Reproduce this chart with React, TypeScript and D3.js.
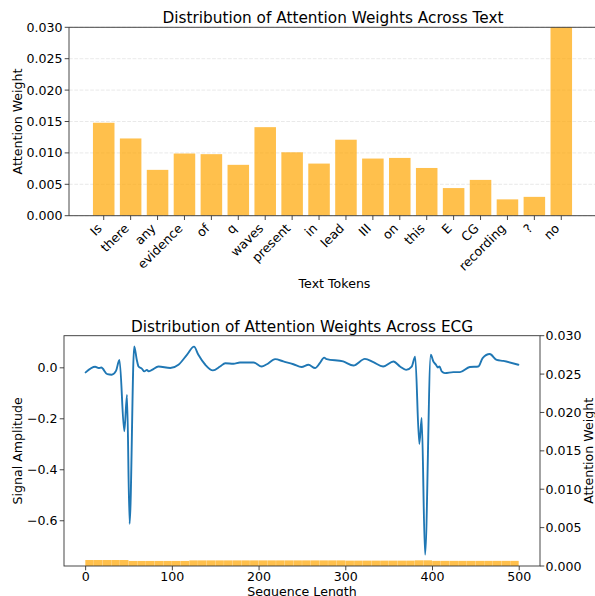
import React from "react";
import * as d3 from "d3";

const tokens = ["Is","there","any","evidence","of","q","waves","present","in","lead","III","on","this","E","CG","recording","?","no"];
const tokenWeights = [0.0148,0.0123,0.0073,0.0099,0.0098,0.0081,0.0141,0.0101,0.0083,0.0121,0.0091,0.0092,0.0076,0.0044,0.0057,0.0026,0.0030,0.0500];
const textYTicks = [0, 0.005, 0.01, 0.015, 0.02, 0.025, 0.03];

// ECG key samples: [index, amplitude]
const ecgIdx = [0,11,15,18,25,30,35,39,44.6,47.7,50.7,56,59,61,65,67.6,70.7,72.6,76.5,84,97.6,107,116.8,125,130,138,146.8,155,161,170.5,178,193.6,203,209,218.5,228,239.6,249,257,264.6,270,275,278,297,308.8,322,331.8,343,355,362.5,369.5,376,380,384.8,387.5,391.4,398,401,404,406,408,410.6,414.4,424,431.7,443,452.8,457.8,466,474,481.6,499];
const ecgAmp = [-0.018,0.004,-0.001,0.001,-0.025,-0.027,-0.012,0.031,-0.249,-0.106,-0.612,0.084,0.031,0.005,-0.004,-0.014,-0.008,-0.014,-0.008,0.005,-0.001,0.012,0.051,0.083,0.051,0.012,-0.010,0.005,0.018,0.016,0.021,0.021,0.005,0.014,0.034,0.025,0.014,0.003,0.012,-0.001,0.018,0.040,0.034,0.025,0.009,0.035,0.022,0.005,0.025,0.005,-0.008,0.005,0.044,-0.299,-0.197,-0.733,0.051,0.025,0.012,0.001,0.005,-0.014,-0.021,-0.017,-0.017,0.003,0.005,0.038,0.054,0.031,0.027,0.012];
// attention weight per block of 10 samples
const ecgAttn = [
  0.00078,0.00078,0.00078,0.00078,0.00078,
  0.00066,0.00066,0.00066,0.00066,0.00066,0.00066,0.00066,
  0.00073,0.00073,0.00073,0.00073,0.00073,0.00073,0.00073,0.00073,0.00073,0.00073,
  0.00073,0.00073,0.00073,0.00073,0.00073,0.00073,0.00073,0.00073,
  0.00070,0.00070,0.00070,0.00070,0.00070,0.00070,0.00070,0.00070,
  0.00074,0.00074,
  0.00067,0.00067,0.00067,0.00067,0.00067,0.00067,0.00067,0.00067,0.00067,0.00067
];
const ecgXTicks = [0,100,200,300,400,500];
const ampTicks = [0, -0.2, -0.4, -0.6];
const attnTicks = [0, 0.005, 0.01, 0.015, 0.02, 0.025, 0.03];

const FONT = "DejaVu Sans";
const TICK_FS = 12.6;
const TITLE_FS = 15.3;
const ORANGE = "rgba(255,165,0,0.7)";
const SPINE = "#333";

const fmtMinus = (s: string) => s.replace("-", "\u2212");

export default function App() {
  // Top chart
  const t = { l: 69, r: 596, t: 27.3, b: 215.7 };
  const xT = d3.scaleLinear().domain([-1.29, 18.29]).range([t.l, t.r]);
  const yT = d3.scaleLinear().domain([0, 0.03]).range([t.b, t.t]);
  const bw = xT(0.4) - xT(-0.4);

  // Bottom chart
  const bch = { l: 64, r: 540, t: 335.7, b: 566 };
  const xB = d3.scaleLinear().domain([-24.95, 523.95]).range([bch.l, bch.r]);
  const yL = d3.scaleLinear().domain([-0.7775, 0.126]).range([bch.b, bch.t]);
  const yR = d3.scaleLinear().domain([0, 0.03]).range([bch.b, bch.t]);
  const line = d3.line<number>().x((_, i) => xB(ecgIdx[i])).y((v) => yL(v)).curve(d3.curveMonotoneX);

  const tl = 4.3;
  return (
    <svg width={595} height={596} style={{ position: "absolute", left: 0, top: 0, fontFamily: FONT }}>
      <rect width={595} height={596} fill="#fff" />
      {/* ===== Top chart ===== */}
      <defs>
        <clipPath id="clipTop"><rect x={t.l} y={t.t} width={t.r - t.l} height={t.b - t.t} /></clipPath>
        <clipPath id="clipBot"><rect x={bch.l} y={bch.t} width={bch.r - bch.l} height={bch.b - bch.t} /></clipPath>
      </defs>
      {textYTicks.map((v) => (
        <line key={"g" + v} x1={t.l} x2={t.r} y1={yT(v)} y2={yT(v)} stroke="#b0b0b0" strokeOpacity={0.35} strokeDasharray="3.7,1.6" strokeWidth={0.8} />
      ))}
      <g clipPath="url(#clipTop)">
        {tokenWeights.map((w, i) => (
          <rect key={i} x={xT(i) - bw / 2} y={yT(w)} width={bw} height={yT(0) - yT(w)} fill={ORANGE} />
        ))}
      </g>
      <line x1={t.l} x2={t.l} y1={t.t} y2={t.b} stroke={SPINE} strokeWidth={0.9} />
      <line x1={t.l} x2={t.r} y1={t.b} y2={t.b} stroke={SPINE} strokeWidth={0.9} />
      <line x1={t.l} x2={t.r} y1={t.t} y2={t.t} stroke={SPINE} strokeWidth={0.9} />
      {textYTicks.map((v) => (
        <g key={"yt" + v}>
          <line x1={t.l - tl} x2={t.l} y1={yT(v)} y2={yT(v)} stroke={SPINE} strokeWidth={0.9} />
          <text x={t.l - 6.5} y={yT(v)} dy="0.36em" textAnchor="end" fontSize={TICK_FS} fill="#000">{d3.format(".3f")(v)}</text>
        </g>
      ))}
      {tokens.map((tok, i) => (
        <g key={"xt" + i}>
          <line x1={xT(i)} x2={xT(i)} y1={t.b} y2={t.b + tl} stroke={SPINE} strokeWidth={0.9} />
          <text transform={`translate(${xT(i) - 1},${t.b + 13.5}) rotate(-45)`} textAnchor="end" fontSize={TICK_FS} fill="#000">{tok}</text>
        </g>
      ))}
      <text x={(t.l + t.r) / 2 + 2} y={288} textAnchor="middle" fontSize={TICK_FS} fill="#000">Text Tokens</text>
      <text transform={`translate(21.5,${(t.t + t.b) / 2}) rotate(-90)`} textAnchor="middle" fontSize={TICK_FS} fill="#000">Attention Weight</text>
      <text x={333} y={23} textAnchor="middle" fontSize={TITLE_FS} fill="#000">Distribution of Attention Weights Across Text</text>

      {/* ===== Bottom chart ===== */}
      <g clipPath="url(#clipBot)">
        <path d={line(ecgAmp) || ""} fill="none" stroke="#1f77b4" strokeWidth={1.9} strokeLinejoin="round" strokeLinecap="round" />
        {ecgAttn.map((a, i) => (
          <rect key={"a" + i} x={xB(i * 10 - 0.4)} y={yR(a)} width={xB(i * 10 + 9.4) - xB(i * 10 - 0.4)} height={yR(0) - yR(a)} fill={ORANGE} />
        ))}
      </g>
      <rect x={bch.l} y={bch.t} width={bch.r - bch.l} height={bch.b - bch.t} fill="none" stroke={SPINE} strokeWidth={0.9} />
      {ecgXTicks.map((v) => (
        <g key={"bx" + v}>
          <line x1={xB(v)} x2={xB(v)} y1={bch.b} y2={bch.b + tl} stroke={SPINE} strokeWidth={0.9} />
          <text x={xB(v)} y={581} textAnchor="middle" fontSize={TICK_FS} fill="#000">{v}</text>
        </g>
      ))}
      {ampTicks.map((v) => (
        <g key={"bl" + v}>
          <line x1={bch.l - tl} x2={bch.l} y1={yL(v)} y2={yL(v)} stroke={SPINE} strokeWidth={0.9} />
          <text x={bch.l - 6.5} y={yL(v)} dy="0.36em" textAnchor="end" fontSize={TICK_FS} fill="#000">{fmtMinus(d3.format(".1f")(v))}</text>
        </g>
      ))}
      {attnTicks.map((v) => (
        <g key={"br" + v}>
          <line x1={bch.r} x2={bch.r + tl} y1={yR(v)} y2={yR(v)} stroke={SPINE} strokeWidth={0.9} />
          <text x={bch.r + 5.5} y={yR(v)} dy="0.36em" textAnchor="start" fontSize={TICK_FS} fill="#000">{d3.format(".3f")(v)}</text>
        </g>
      ))}
      <text x={(bch.l + bch.r) / 2} y={595.5} textAnchor="middle" fontSize={TICK_FS} fill="#000">Sequence Length</text>
      <text transform={`translate(21.5,${(bch.t + bch.b) / 2}) rotate(-90)`} textAnchor="middle" fontSize={TICK_FS} fill="#000">Signal Amplitude</text>
      <text transform={`translate(592.5,${(bch.t + bch.b) / 2}) rotate(-90)`} textAnchor="middle" fontSize={TICK_FS} fill="#000">Attention Weight</text>
      <text x={302} y={331.5} textAnchor="middle" fontSize={TITLE_FS} fill="#000">Distribution of Attention Weights Across ECG</text>
    </svg>
  );
}
